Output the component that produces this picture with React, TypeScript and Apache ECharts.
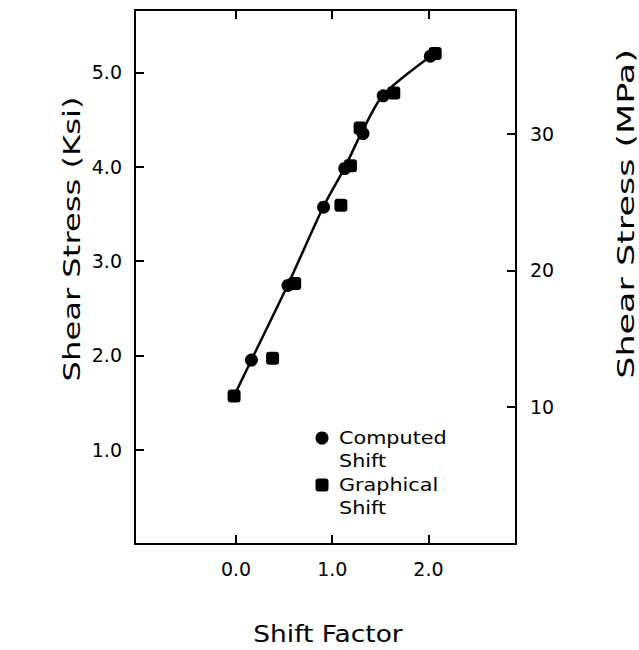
import React, { useEffect, useRef } from "react";
import * as echarts from "echarts";

// Computed shift (circles)
const computedShift = [0.16, 0.54, 0.91, 1.13, 1.32, 1.53, 2.02];
const computedStress = [1.95, 2.74, 3.57, 3.98, 4.35, 4.75, 5.17];
// Graphical shift (squares)
const graphicalShift = [-0.02, 0.38, 0.61, 1.09, 1.19, 1.29, 1.64, 2.07];
const graphicalStress = [1.57, 1.97, 2.76, 3.59, 4.01, 4.41, 4.78, 5.2];
// Fitted curve
const curveShift = [-0.02, 0.16, 0.54, 0.91, 1.13, 1.31, 1.53, 2.05];
const curveStress = [1.57, 1.95, 2.75, 3.58, 3.99, 4.37, 4.76, 5.19];

const xTicks = [0, 1, 2];
const ksiTicks = [1, 2, 3, 4, 5];
const mpaTicks = [10, 20, 30];
const KSI_TO_MPA = 6.895;

const FONT = "DejaVu Sans";

export default function App() {
  const ref = useRef<HTMLDivElement>(null);
  useEffect(() => {
    const chart = echarts.init(ref.current!, null, { renderer: "svg" });
    const yMax = 5.66;
    const axisLine = { show: true, onZero: false, lineStyle: { color: "#000", width: 2 } };
    const tick = (vals: number[]) => ({
      show: true,
      inside: true,
      length: 9,
      customValues: vals,
      lineStyle: { color: "#000", width: 2 },
    });
    const label = (vals: number[], fmt: (v: number) => string, margin: number) => ({
      show: true,
      customValues: vals,
      formatter: fmt,
      color: "#000",
      fontSize: 19,
      fontFamily: FONT,
      margin,
    });
    const titleStyle = (text: string) => ({
      text,
      fontSize: 23,
      fontFamily: FONT,
      fill: "#000",
      textAlign: "center",
      textVerticalAlign: "middle",
    });
    const legendText = (text: string, y: number) => ({
      type: "text",
      x: 339,
      y,
      scaleX: 1.22,
      style: { text, fontSize: 17, fontFamily: FONT, fill: "#000", textVerticalAlign: "middle" },
    });
    chart.setOption({
      animation: false,
      backgroundColor: "#fff",
      grid: { left: 135, right: 123, top: 10, bottom: 106 },
      xAxis: [
        {
          type: "value",
          position: "bottom",
          min: -1.05,
          max: 2.91,
          axisLine,
          axisTick: tick(xTicks),
          axisLabel: label(xTicks, (v: number) => v.toFixed(1), 15),
          splitLine: { show: false },
        },
        {
          type: "value",
          position: "top",
          min: -1.05,
          max: 2.91,
          axisLine,
          axisTick: tick(xTicks),
          axisLabel: { show: false },
          splitLine: { show: false },
        },
      ],
      yAxis: [
        {
          type: "value",
          position: "left",
          min: 0,
          max: yMax,
          axisLine,
          axisTick: tick(ksiTicks),
          axisLabel: label(ksiTicks, (v: number) => v.toFixed(1), 13),
          splitLine: { show: false },
        },
        {
          type: "value",
          position: "right",
          min: 0,
          max: yMax * KSI_TO_MPA,
          axisLine,
          axisTick: tick(mpaTicks),
          axisLabel: label(mpaTicks, (v: number) => String(v), 14),
          splitLine: { show: false },
        },
      ],
      series: [
        {
          name: "Curve",
          type: "line",
          smooth: 0.25,
          symbol: "none",
          lineStyle: { color: "#000", width: 2.5 },
          data: curveShift.map((x, i) => [x, curveStress[i]]),
          z: 1,
        },
        {
          name: "Computed Shift",
          type: "scatter",
          symbol: "circle",
          symbolSize: 13,
          itemStyle: { color: "#000", opacity: 1 },
          data: computedShift.map((x, i) => [x, computedStress[i]]),
          z: 2,
        },
        {
          name: "Graphical Shift",
          type: "scatter",
          symbol: "roundRect",
          symbolSize: 13,
          itemStyle: { color: "#000", opacity: 1 },
          data: graphicalShift.map((x, i) => [x, graphicalStress[i]]),
          z: 2,
        },
      ],
      graphic: [
        {
          type: "text",
          x: 72,
          y: 239,
          rotation: Math.PI / 2,
          scaleX: 1.4,
          style: titleStyle("Shear Stress (Ksi)"),
        },
        {
          type: "text",
          x: 626,
          y: 214,
          rotation: Math.PI / 2,
          scaleX: 1.52,
          style: titleStyle("Shear Stress (MPa)"),
        },
        {
          type: "text",
          x: 328,
          y: 634,
          scaleX: 1.15,
          style: titleStyle("Shift Factor"),
        },
        { type: "circle", shape: { cx: 322, cy: 438, r: 6.5 }, style: { fill: "#000" } },
        legendText("Computed", 438),
        legendText("Shift", 461),
        {
          type: "rect",
          shape: { x: 315.5, y: 478.5, width: 13, height: 13, r: 3 },
          style: { fill: "#000" },
        },
        legendText("Graphical", 485),
        legendText("Shift", 508),
      ],
    });
    return () => chart.dispose();
  }, []);
  return (
    <div
      ref={ref}
      style={{ position: "fixed", left: 0, top: 0, width: 639, height: 650, background: "#fff" }}
    />
  );
}
